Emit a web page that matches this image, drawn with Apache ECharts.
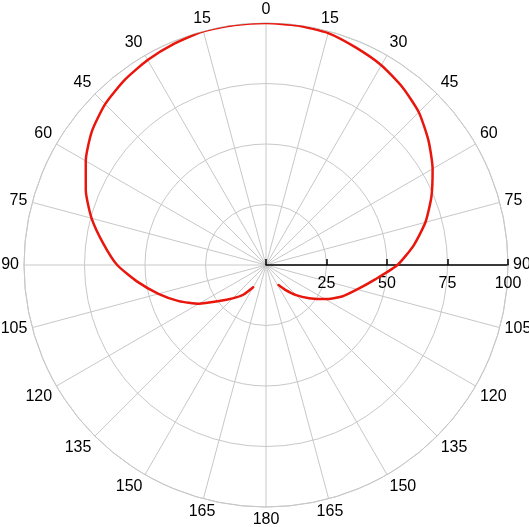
<!DOCTYPE html>
<html><head><meta charset="utf-8">
<script src="https://cdn.jsdelivr.net/npm/echarts@6/dist/echarts.min.js"></script>
<style>html,body{margin:0;padding:0;background:#fff}#c{width:529px;height:527px}</style>
</head><body><div id="c"></div>
<script>
// angle measured clockwise from top (degrees, negative = left side)
const angles = [-150,-142.5,-135,-127.5,-120,-112.5,-105,-97.5,-90,-82.5,-75,-67.5,-60,-52.5,-45,-37.5,-30,-22.5,-15,-7.5,0,7.5,15,22.5,30,37.5,45,52.5,60,67.5,75,82.5,90,97.5,105,112.5,120,127.5,135,142.5,148];
const radii  = [10.6,15.5,19.5,24.5,32,39,46,53.5,61.5,67.8,74.6,80.6,86,90.7,94,96.2,97.8,99,100,100,100,99.8,99.2,97.2,95.3,92.6,89.3,84.6,79.5,74,68.2,61.5,54.3,45.5,39,34,28.2,22.5,17.6,12.8,9.8];
const radiusTicks = [0,25,50,75,100];
const angleTickStep = 15;

const FONT = "'Liberation Sans Narrow', 'Liberation Sans', Arial, sans-serif";
const toAxis = a => ((((a - 90) % 360) + 360) % 360) + 90;
const data = angles.map((a, i) => [radii[i], toAxis(a)]);

const chart = echarts.init(document.getElementById('c'), null, {renderer: 'canvas'});
chart.setOption({
  animation: false,
  backgroundColor: '#fff',
  polar: {center: [266, 265], radius: 242},
  angleAxis: {
    type: 'value', min: 90, max: 450, interval: angleTickStep,
    startAngle: 0, clockwise: true,
    axisLine: {show: true, lineStyle: {color: '#c8c8c8', width: 1}},
    axisTick: {show: false},
    splitLine: {show: true, lineStyle: {color: '#c8c8c8', width: 1}},
    axisLabel: {
      color: '#000', fontSize: 16, fontFamily: FONT, margin: 5,
      formatter: v => { if (v >= 450) return ''; const t = ((v % 360) + 360) % 360; return String(t <= 180 ? t : 360 - t); }
    }
  },
  radiusAxis: {
    type: 'value', min: radiusTicks[0], max: radiusTicks[radiusTicks.length - 1], interval: 25,
    axisLine: {show: true, lineStyle: {color: '#000', width: 1.5}},
    axisTick: {show: true, inside: true, length: 6, lineStyle: {color: '#000', width: 1.5}},
    splitLine: {show: true, lineStyle: {color: '#c8c8c8', width: 1}},
    axisLabel: {
      color: '#000', fontSize: 16, fontFamily: FONT, margin: -11, verticalAlign: 'top',
      formatter: v => v === 0 ? '' : String(v)
    }
  },
  series: [{
    type: 'line', coordinateSystem: 'polar', data: data,
    symbol: 'none', smooth: 0.2,
    lineStyle: {color: '#e8160c', width: 2.5, join: 'round', cap: 'round'},
    itemStyle: {color: '#e8160c'}
  }]
});
</script></body></html>
